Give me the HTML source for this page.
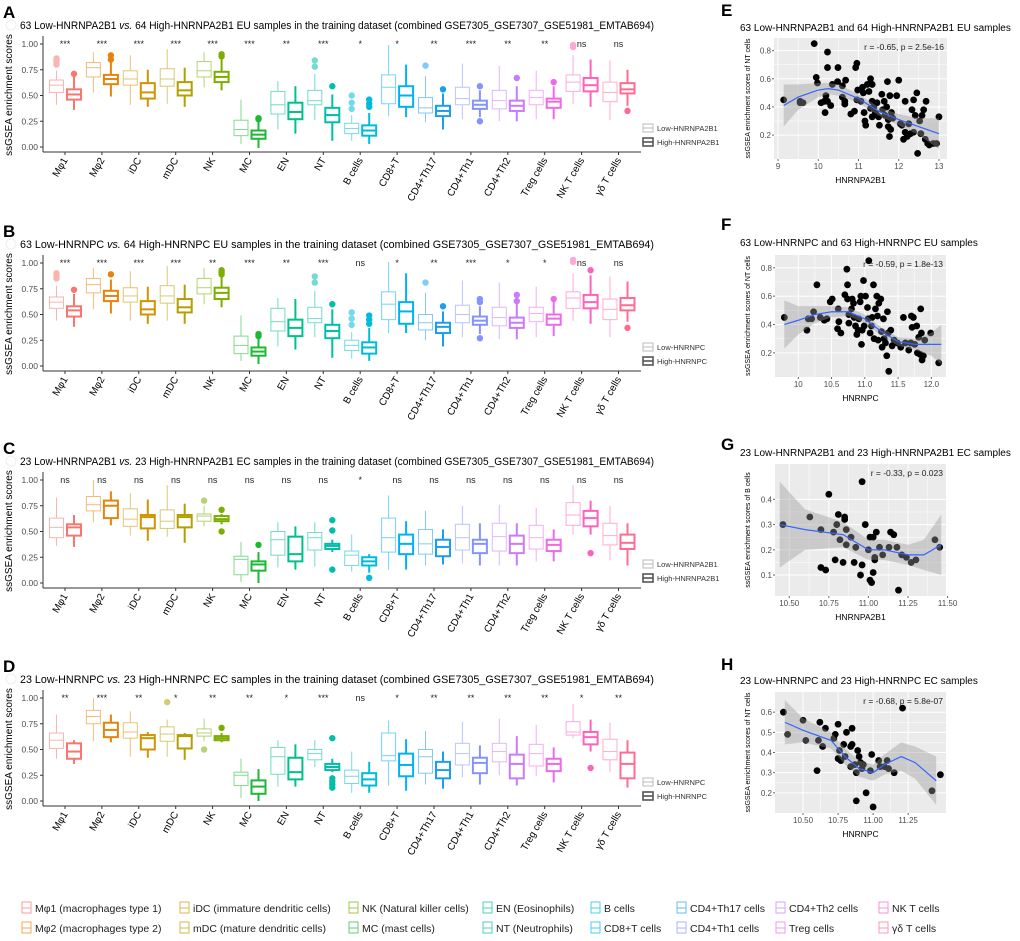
<!DOCTYPE html>
<html><head><meta charset="utf-8"><style>
body{margin:0;background:#fff}
svg{display:block;font-family:"Liberation Sans","DejaVu Sans",sans-serif}
</style></head><body>
<svg id="fig" width="1020" height="941" viewBox="0 0 1020 941"></svg>
<script>
const categories=["Mφ1","Mφ2","iDC","mDC","NK","MC","EN","NT","B cells","CD8+T","CD4+Th17","CD4+Th1","CD4+Th2","Treg cells","NK T cells","γδ T cells"];
const colors=["#F8766D","#E8830C","#D19400","#B3A000","#7CAE00","#1DB934","#00C08B","#00BFA8","#00BCD8","#00B2F3","#1C9EF0","#8494FF","#C77CFF","#EE6BE8","#FF62BC","#FF6C91"];
const yTicks=[0,0.25,0.5,0.75,1];
const yTickLabels=["0.00","0.25","0.50","0.75","1.00"];
const A_low=[[0.41,0.53,0.60,0.65,0.74],[0.53,0.68,0.77,0.82,0.92],[0.41,0.60,0.66,0.74,0.89],[0.42,0.59,0.66,0.76,0.95],[0.58,0.68,0.74,0.83,0.92],[0.03,0.11,0.17,0.26,0.46],[0.17,0.32,0.41,0.54,0.64],[0.26,0.41,0.45,0.55,0.71],[0.06,0.13,0.18,0.23,0.31],[0.30,0.42,0.58,0.70,0.99],[0.24,0.33,0.38,0.48,0.69],[0.27,0.41,0.47,0.58,0.81],[0.25,0.37,0.45,0.55,0.79],[0.27,0.41,0.48,0.55,0.74],[0.42,0.54,0.63,0.70,0.89],[0.26,0.44,0.53,0.63,0.84]];
const A_lowOut=[[0.80,0.82,0.84,0.86],[],[],[],[],[],[],[0.78,0.84],[0.37,0.43,0.50],[],[0.79],[],[],[],[0.97,0.99],[]];
const A_high=[[0.36,0.46,0.51,0.56,0.68],[0.49,0.61,0.66,0.70,0.83],[0.39,0.47,0.53,0.62,0.75],[0.39,0.50,0.55,0.63,0.77],[0.55,0.63,0.68,0.73,0.85],[-0.01,0.08,0.12,0.16,0.25],[0.13,0.27,0.34,0.43,0.59],[0.06,0.24,0.31,0.38,0.51],[0.03,0.11,0.16,0.21,0.33],[0.29,0.39,0.50,0.59,0.80],[0.17,0.30,0.35,0.40,0.52],[0.29,0.37,0.41,0.45,0.55],[0.25,0.35,0.40,0.45,0.59],[0.27,0.38,0.44,0.47,0.59],[0.39,0.54,0.60,0.67,0.85],[0.40,0.52,0.56,0.62,0.75]];
const A_highOut=[[0.71],[0.85,0.89],[],[],[0.88,0.90],[0.27,0.28],[],[0.59],[0.39,0.42,0.46],[],[0.56],[0.59,0.25],[0.67],[0.63],[],[0.35]];
const A_sig=["***","***","***","***","***","***","**","***","*","*","**","***","**","**","ns","ns"];
const B_low=[[0.44,0.56,0.62,0.67,0.78],[0.55,0.71,0.79,0.85,0.95],[0.44,0.62,0.68,0.76,0.92],[0.44,0.61,0.68,0.78,0.97],[0.60,0.70,0.76,0.85,0.95],[0.05,0.12,0.20,0.29,0.49],[0.19,0.34,0.43,0.56,0.66],[0.28,0.42,0.46,0.57,0.73],[0.07,0.15,0.20,0.25,0.33],[0.32,0.45,0.60,0.72,1.01],[0.25,0.35,0.42,0.50,0.71],[0.28,0.42,0.50,0.59,0.83],[0.26,0.39,0.47,0.57,0.81],[0.28,0.43,0.51,0.57,0.77],[0.44,0.56,0.66,0.72,0.90],[0.28,0.45,0.55,0.65,0.87]];
const B_lowOut=[[0.85,0.87,0.89,0.90],[],[],[],[],[],[],[0.81,0.87],[0.40,0.46,0.52],[],[0.81],[],[],[],[1.01,1.03],[]];
const B_high=[[0.38,0.48,0.54,0.58,0.70],[0.51,0.63,0.68,0.73,0.84],[0.41,0.50,0.55,0.63,0.77],[0.41,0.52,0.57,0.65,0.79],[0.57,0.65,0.71,0.76,0.87],[0.02,0.10,0.14,0.18,0.27],[0.16,0.29,0.37,0.45,0.65],[0.08,0.27,0.34,0.40,0.55],[0.05,0.12,0.18,0.23,0.37],[0.32,0.41,0.53,0.62,0.90],[0.19,0.32,0.38,0.42,0.53],[0.31,0.40,0.44,0.48,0.58],[0.26,0.37,0.42,0.47,0.61],[0.29,0.40,0.46,0.50,0.62],[0.41,0.56,0.62,0.69,0.88],[0.43,0.54,0.59,0.66,0.82]];
const B_highOut=[[0.74],[0.89],[],[],[0.89,0.91,0.93],[0.29,0.31],[],[0.60],[0.41,0.45,0.49],[],[0.58],[0.27,0.62,0.65],[0.63,0.69],[0.65],[0.93],[0.37]];
const B_sig=["***","***","***","***","**","***","**","***","ns","*","**","***","*","*","ns","ns"];
const C_low=[[0.36,0.44,0.54,0.63,0.83],[0.59,0.70,0.76,0.84,1.00],[0.46,0.55,0.62,0.72,0.87],[0.45,0.53,0.60,0.71,0.95],[0.55,0.60,0.65,0.67,0.75],[0.01,0.08,0.23,0.26,0.40],[0.15,0.27,0.42,0.50,0.59],[0.16,0.32,0.44,0.49,0.59],[0.11,0.17,0.27,0.31,0.47],[0.13,0.30,0.44,0.63,0.85],[0.17,0.28,0.38,0.52,0.70],[0.19,0.32,0.44,0.57,0.75],[0.17,0.31,0.45,0.58,0.76],[0.21,0.33,0.44,0.56,0.73],[0.47,0.56,0.66,0.78,0.95],[0.22,0.37,0.46,0.58,0.75]];
const C_lowOut=[[],[],[],[],[0.80],[],[],[],[],[],[],[],[],[],[],[]];
const C_high=[[0.35,0.46,0.54,0.57,0.66],[0.56,0.63,0.75,0.80,0.89],[0.41,0.53,0.64,0.66,0.81],[0.39,0.54,0.64,0.66,0.77],[0.57,0.60,0.62,0.65,0.67],[0.00,0.12,0.18,0.21,0.30],[0.13,0.21,0.28,0.45,0.55],[0.30,0.33,0.36,0.38,0.42],[0.10,0.17,0.21,0.25,0.28],[0.13,0.28,0.38,0.47,0.60],[0.18,0.26,0.35,0.42,0.52],[0.17,0.29,0.38,0.42,0.58],[0.17,0.29,0.38,0.46,0.58],[0.21,0.31,0.37,0.42,0.52],[0.47,0.55,0.63,0.70,0.80],[0.17,0.33,0.39,0.47,0.58]];
const C_highOut=[[],[],[],[],[0.71,0.50],[0.37],[],[0.61,0.51,0.13],[0.05],[],[],[],[],[],[0.29],[]];
const C_sig=["ns","ns","ns","ns","ns","ns","ns","ns","*","ns","ns","ns","ns","ns","ns","ns"];
const D_low=[[0.41,0.51,0.59,0.66,0.84],[0.58,0.75,0.82,0.88,1.00],[0.43,0.61,0.67,0.76,0.87],[0.43,0.58,0.65,0.72,0.79],[0.58,0.63,0.66,0.70,0.80],[0.03,0.15,0.25,0.28,0.41],[0.14,0.26,0.43,0.52,0.59],[0.33,0.40,0.46,0.50,0.59],[0.08,0.17,0.24,0.30,0.48],[0.15,0.39,0.44,0.66,0.78],[0.16,0.27,0.43,0.50,0.68],[0.23,0.35,0.46,0.56,0.77],[0.25,0.38,0.48,0.56,0.80],[0.24,0.34,0.46,0.55,0.74],[0.61,0.64,0.67,0.77,0.94],[0.28,0.40,0.48,0.60,0.76]];
const D_lowOut=[[],[],[],[0.96],[0.50],[],[],[],[],[],[],[],[],[],[],[]];
const D_high=[[0.36,0.41,0.48,0.56,0.59],[0.57,0.62,0.69,0.76,0.84],[0.42,0.50,0.61,0.64,0.67],[0.40,0.51,0.63,0.64,0.66],[0.57,0.59,0.61,0.63,0.66],[0.00,0.07,0.14,0.20,0.31],[0.14,0.21,0.28,0.42,0.55],[0.28,0.30,0.33,0.36,0.41],[0.08,0.15,0.21,0.27,0.38],[0.10,0.24,0.35,0.46,0.60],[0.12,0.22,0.30,0.38,0.48],[0.16,0.27,0.37,0.42,0.54],[0.15,0.22,0.36,0.45,0.63],[0.18,0.29,0.36,0.41,0.52],[0.48,0.55,0.62,0.67,0.79],[0.13,0.22,0.36,0.47,0.59]];
const D_highOut=[[],[],[],[],[0.71],[],[],[0.61,0.22,0.19,0.16,0.13],[],[],[],[],[],[],[0.32],[]];
const D_sig=["**","***","**","*","**","**","*","***","ns","*","**","**","**","**","*","**"];

const E_x=[9.14,9.55,9.55,9.62,9.9,9.95,9.98,10.07,10.15,10.17,10.23,10.23,10.19,10.23,10.31,10.48,10.49,10.35,10.6,10.68,10.6,10.66,10.66,10.81,10.9,10.96,10.93,10.98,10.96,11.06,11.1,11.12,11.14,11.16,11.18,11.22,11.26,11.3,11.34,11.34,11.3,11.34,11.38,11.42,11.46,11.46,11.5,11.52,11.58,11.6,11.64,11.66,11.7,11.72,11.74,11.74,11.77,11.78,11.8,11.82,11.85,11.95,12.0,12.04,12.08,12.12,12.16,12.16,12.21,12.25,12.29,12.33,12.37,12.37,12.41,12.45,12.47,12.52,12.55,12.58,12.62,12.66,12.68,12.72,12.76,12.86,12.94,13.0];
const E_y=[0.45,0.44,0.43,0.43,0.85,0.61,0.57,0.43,0.44,0.36,0.79,0.68,0.48,0.44,0.41,0.58,0.68,0.56,0.55,0.59,0.47,0.42,0.44,0.35,0.37,0.71,0.68,0.52,0.45,0.44,0.54,0.50,0.36,0.30,0.27,0.56,0.51,0.60,0.56,0.44,0.39,0.33,0.40,0.36,0.43,0.34,0.33,0.27,0.49,0.38,0.44,0.34,0.40,0.58,0.31,0.26,0.19,0.48,0.24,0.36,0.32,0.48,0.59,0.28,0.27,0.17,0.44,0.22,0.19,0.28,0.21,0.38,0.45,0.22,0.34,0.50,0.07,0.30,0.21,0.34,0.38,0.17,0.44,0.14,0.13,0.14,0.14,0.33];
const E_fitX=[9.14,9.5,10.0,10.25,10.5,11.0,11.5,12.0,12.5,13.0];
const E_fit=[0.41,0.47,0.52,0.53,0.52,0.46,0.37,0.31,0.26,0.21];
const E_se=[0.15,0.09,0.05,0.04,0.04,0.03,0.03,0.04,0.06,0.11];
const F_x=[9.79,10.13,10.15,10.2,10.23,10.28,10.33,10.39,10.43,10.48,10.51,10.59,10.6,10.61,10.64,10.7,10.73,10.74,10.74,10.76,10.76,10.8,10.81,10.83,10.84,10.86,10.88,10.9,10.91,10.93,10.94,10.95,10.96,10.98,10.99,11.01,11.04,11.05,11.06,11.08,11.1,11.11,11.13,11.14,11.16,11.18,11.19,11.2,11.21,11.24,11.25,11.26,11.28,11.29,11.31,11.33,11.34,11.35,11.36,11.39,11.41,11.44,11.49,11.54,11.58,11.61,11.66,11.69,11.7,11.71,11.73,11.75,11.78,11.79,11.81,11.83,11.84,11.85,11.86,11.88,11.9,11.99,12.11];
const F_y=[0.45,0.36,0.44,0.44,0.49,0.68,0.45,0.43,0.44,0.56,0.58,0.37,0.51,0.42,0.34,0.61,0.79,0.68,0.58,0.47,0.41,0.51,0.58,0.55,0.45,0.39,0.33,0.36,0.44,0.56,0.60,0.26,0.36,0.71,0.39,0.60,0.52,0.44,0.85,0.34,0.39,0.45,0.68,0.30,0.51,0.60,0.46,0.29,0.55,0.58,0.35,0.24,0.44,0.30,0.27,0.18,0.49,0.34,0.07,0.36,0.25,0.29,0.27,0.24,0.45,0.27,0.22,0.27,0.46,0.38,0.45,0.26,0.39,0.20,0.31,0.19,0.51,0.34,0.15,0.18,0.29,0.34,0.13];
const F_fitX=[9.79,10.0,10.25,10.5,10.75,11.0,11.25,11.5,11.75,12.0,12.15];
const F_fit=[0.40,0.43,0.47,0.49,0.49,0.44,0.35,0.28,0.26,0.26,0.26];
const F_se=[0.17,0.10,0.06,0.04,0.03,0.03,0.03,0.03,0.04,0.08,0.14];
const G_x=[10.46,10.63,10.7,10.7,10.73,10.75,10.78,10.79,10.8,10.81,10.82,10.85,10.85,10.84,10.86,10.86,10.89,10.91,10.92,10.96,10.95,10.96,10.98,11.0,11.01,11.01,11.02,11.03,11.03,11.04,11.04,11.05,11.07,11.09,11.13,11.14,11.16,11.18,11.19,11.21,11.24,11.27,11.3,11.42,11.45];
const G_y=[0.30,0.33,0.28,0.13,0.12,0.42,0.27,0.16,0.30,0.34,0.24,0.33,0.32,0.15,0.28,0.22,0.25,0.15,0.21,0.47,0.10,0.14,0.30,0.20,0.25,0.08,0.07,0.25,0.11,0.17,0.16,0.27,0.21,0.18,0.21,0.27,0.26,0.21,0.04,0.18,0.17,0.15,0.16,0.24,0.21];
const G_fitX=[10.44,10.6,10.84,11.0,11.1,11.25,11.35,11.46];
const G_fit=[0.30,0.28,0.26,0.20,0.20,0.18,0.18,0.22];
const G_se=[0.17,0.08,0.05,0.04,0.04,0.04,0.06,0.12];
const H_x=[10.36,10.39,10.5,10.52,10.6,10.61,10.62,10.64,10.66,10.72,10.73,10.75,10.75,10.76,10.77,10.79,10.8,10.81,10.84,10.84,10.85,10.85,10.87,10.88,10.88,10.89,10.9,10.91,10.92,10.93,10.95,10.98,10.99,11.0,11.04,11.05,11.08,11.1,11.11,11.15,11.21,11.42,11.48];
const H_y=[0.60,0.49,0.56,0.46,0.31,0.46,0.55,0.43,0.52,0.47,0.49,0.54,0.37,0.41,0.36,0.44,0.38,0.50,0.43,0.33,0.52,0.44,0.34,0.16,0.30,0.41,0.38,0.35,0.32,0.34,0.20,0.31,0.39,0.13,0.36,0.33,0.33,0.36,0.32,0.30,0.62,0.21,0.29];
const H_fitX=[10.37,10.5,10.7,10.8,10.9,11.0,11.08,11.2,11.3,11.45];
const H_fit=[0.55,0.51,0.46,0.38,0.32,0.30,0.34,0.38,0.35,0.26];
const H_se=[0.11,0.06,0.04,0.04,0.04,0.04,0.05,0.07,0.08,0.12];

const legendRow1=[0,2,4,6,8,10,12,14];
const legendRow2=[1,3,5,7,9,11,13,15];
const legendText=["Mφ1 (macrophages type 1)","Mφ2 (macrophages type 2)","iDC (immature dendritic cells)","mDC (mature dendritic cells)","NK (Natural killer cells)","MC (mast cells)","EN (Eosinophils)","NT (Neutrophils)","B cells","CD8+T cells","CD4+Th17 cells","CD4+Th1 cells","CD4+Th2 cells","Treg cells","NK T cells","γδ T cells"];

const NS="http://www.w3.org/2000/svg";
const svg=document.getElementById('fig');
function el(tag,attrs,parent,text){const e=document.createElementNS(NS,tag);for(const k in attrs)e.setAttribute(k,attrs[k]);if(text!==undefined)e.textContent=text;(parent||svg).appendChild(e);return e;}
function lighten(hex,f){const n=parseInt(hex.slice(1),16);let r=n>>16,g=(n>>8)&255,b=n&255;r=Math.round(r+(255-r)*f);g=Math.round(g+(255-g)*f);b=Math.round(b+(255-b)*f);return `rgb(${r},${g},${b})`;}

function boxPanel(letter,off,title,low,lowOut,high,highOut,sig,legLow,legHigh){
  const g=el('g',{});
  
  
  const y=v=>147+off-v*103;
  const cx=i=>65+i*36.9;
  const L=el('text',{x:3,y:18+off,'font-size':17,'font-weight':'bold'},g,letter);
  
  
  const c=el('circle',{cx:11,cy:25+off,r:5,fill:'none',stroke:'#eee'},g);
  const T=el('text',{x:20,y:29+off,'font-size':10.6,textLength:634,lengthAdjust:'spacingAndGlyphs'},g);
  
  
  const parts=title.split('vs.');
  el('tspan',{},T,parts[0]);el('tspan',{'font-style':'italic'},T,'vs.');el('tspan',{},T,parts[1]);
  el('line',{x1:43,y1:36+off,x2:43,y2:152+off,stroke:'#333','stroke-width':1},g);
  el('line',{x1:43,y1:152+off,x2:641,y2:152+off,stroke:'#333','stroke-width':1},g);
  yTicks.forEach((v,k)=>{
    el('line',{x1:40,y1:y(v),x2:43,y2:y(v),stroke:'#333'},g);
    const t=el('text',{x:38,y:y(v)+3,'font-size':8.5,fill:'#4d4d4d','text-anchor':'end'},g,yTickLabels[k]);
    
    
  });
  const yt=el('text',{transform:`translate(12,${95+off}) rotate(-90)`,'font-size':10,'text-anchor':'middle'},g,'ssGSEA enrichment scores');
  
  
  categories.forEach((cat,i)=>{
    const x=cx(i);
    el('line',{x1:x,y1:152+off,x2:x,y2:155+off,stroke:'#333'},g);
    const xl=el('text',{transform:`translate(${x+3},${160+off}) rotate(-60)`,'font-size':10,'text-anchor':'end'},g,cat);
    
    
    const s=el('text',{x:x,y:y(1)+3,'font-size':9,'text-anchor':'middle',fill:'#222'},g,sig[i]);
    
    
    [[low,lowOut,x-8.5,lighten(colors[i],0.45),1],[high,highOut,x+9,colors[i],2]].forEach(([d,o,bx,col,sw],gi)=>{
      const b=d[i];
      const bg=el('g',{},g);
      
      
      el('line',{x1:bx,y1:y(b[0]),x2:bx,y2:y(b[1]),stroke:col,'stroke-width':sw},bg);
      el('line',{x1:bx,y1:y(b[3]),x2:bx,y2:y(b[4]),stroke:col,'stroke-width':sw},bg);
      el('rect',{x:bx-7,y:y(b[3]),width:14,height:y(b[1])-y(b[3]),fill:'#fff',stroke:col,'stroke-width':sw},bg);
      el('line',{x1:bx-7,y1:y(b[2]),x2:bx+7,y2:y(b[2]),stroke:col,'stroke-width':sw},bg);
      o[i].forEach(v=>{el('circle',{cx:bx,cy:y(v),r:3.2,fill:col},bg);});
    });
  });
  [[legLow,'#bbb',1,128],[legHigh,'#555',1.6,142]].forEach(([txt,col,sw,yy])=>{
    const lg=el('g',{},g);
    
    
    el('rect',{x:643,y:yy-4+off,width:10,height:8,fill:'#fff',stroke:col,'stroke-width':sw},lg);
    el('line',{x1:643,y1:yy+off,x2:653,y2:yy+off,stroke:col,'stroke-width':sw},lg);
    el('text',{x:657,y:yy+3+off,'font-size':7.5,fill:'#333'},lg,txt);
  });
}
boxPanel('A',0,'63 Low-HNRNPA2B1 vs. 64 High-HNRNPA2B1 EU samples in the training dataset (combined GSE7305_GSE7307_GSE51981_EMTAB694)',A_low,A_lowOut,A_high,A_highOut,A_sig,'Low-HNRNPA2B1','High-HNRNPA2B1');
boxPanel('B',219,'63 Low-HNRNPC vs. 64 High-HNRNPC EU samples in the training dataset (combined GSE7305_GSE7307_GSE51981_EMTAB694)',B_low,B_lowOut,B_high,B_highOut,B_sig,'Low-HNRNPC','High-HNRNPC');
boxPanel('C',436,'23 Low-HNRNPA2B1 vs. 23 High-HNRNPA2B1 EC samples in the training dataset (combined GSE7305_GSE7307_GSE51981_EMTAB694)',C_low,C_lowOut,C_high,C_highOut,C_sig,'Low-HNRNPA2B1','High-HNRNPA2B1');
boxPanel('D',654,'23 Low-HNRNPC vs. 23 High-HNRNPC EC samples in the training dataset (combined GSE7305_GSE7307_GSE51981_EMTAB694)',D_low,D_lowOut,D_high,D_highOut,D_sig,'Low-HNRNPC','High-HNRNPC');

function scatter(cfg){
  const g=el('g',{});
  
  
  const [px0,px1,py0,py1]=cfg.box;
  const sx=v=>px0+(v-cfg.xr[0])/(cfg.xr[1]-cfg.xr[0])*(px1-px0);
  const sy=v=>py1-(v-cfg.yr[0])/(cfg.yr[1]-cfg.yr[0])*(py1-py0);
  el('text',{x:721,y:cfg.ly,'font-size':17,'font-weight':'bold'},g,cfg.letter);
  const t=el('text',{x:740,y:cfg.ty,'font-size':10},g,cfg.title);
  
  
  el('rect',{x:px0,y:py0,width:px1-px0,height:py1-py0,fill:'#EBEBEB'},g);
  const minor=(a,b)=>(a+b)/2;
  for(let k=0;k<cfg.xt.length-1;k++){const m=sx(minor(cfg.xt[k],cfg.xt[k+1]));el('line',{x1:m,y1:py0,x2:m,y2:py1,stroke:'#fff','stroke-width':0.5},g);}
  for(let k=0;k<cfg.yt.length-1;k++){const m=sy(minor(cfg.yt[k],cfg.yt[k+1]));el('line',{x1:px0,y1:m,x2:px1,y2:m,stroke:'#fff','stroke-width':0.5},g);}
  cfg.xt.forEach((v,k)=>{const x=sx(v);el('line',{x1:x,y1:py0,x2:x,y2:py1,stroke:'#fff','stroke-width':1},g);
    el('line',{x1:x,y1:py1,x2:x,y2:py1+2,stroke:'#666'},g);
    const l=el('text',{x:x,y:py1+10,'font-size':8,fill:'#4d4d4d','text-anchor':'middle'},g,cfg.xl[k]);
    
    });
  cfg.yt.forEach((v,k)=>{const y=sy(v);el('line',{x1:px0,y1:y,x2:px1,y2:y,stroke:'#fff','stroke-width':1},g);
    el('line',{x1:px0-2,y1:y,x2:px0,y2:y,stroke:'#666'},g);
    const l=el('text',{x:px0-3,y:y+3,'font-size':8,fill:'#4d4d4d','text-anchor':'end'},g,cfg.yl[k]);
    
    });
  cfg.px.forEach((v,k)=>{const p=el('circle',{cx:sx(v),cy:sy(cfg.py[k]),r:3.4,fill:'#000'},g);
    
    });
  let up='',dn='';
  cfg.fx.forEach((v,k)=>{up+=(k?'L':'M')+sx(v)+','+sy(cfg.fy[k]+cfg.se[k]);});
  for(let k=cfg.fx.length-1;k>=0;k--){dn+='L'+sx(cfg.fx[k])+','+sy(cfg.fy[k]-cfg.se[k]);}
  const rb=el('path',{d:up+dn+'Z',fill:'#999','fill-opacity':0.4},g);
  
  
  let ln='';cfg.fx.forEach((v,k)=>{ln+=(k?'L':'M')+sx(v)+','+sy(cfg.fy[k]);});
  const lp=el('path',{d:ln,fill:'none',stroke:'#3366FF','stroke-width':1.2},g);
  
  
  const a=el('text',{x:px1-3,y:py0+12,'font-size':8.5,'text-anchor':'end',fill:'#222'},g,cfg.ann);
  
  
  const xt=el('text',{x:(px0+px1)/2,y:py1+24,'font-size':8.5,'text-anchor':'middle'},g,cfg.xtitle);
  
  
  const yt=el('text',{transform:`translate(750,${(py0+py1)/2}) rotate(-90)`,'font-size':7,'text-anchor':'middle'},g,cfg.ytitle);
  
  
}
scatter({letter:'E',ly:16,ty:31,title:'63 Low-HNRNPA2B1 and 64 High-HNRNPA2B1 EU samples',box:[774,947,38,159],xr:[8.9,13.2],yr:[0.03,0.89],xt:[9,10,11,12,13],xl:['9','10','11','12','13'],yt:[0.2,0.4,0.6,0.8],yl:['0.2','0.4','0.6','0.8'],px:E_x,py:E_y,fx:E_fitX,fy:E_fit,se:E_se,ann:'r = -0.65,   p = 2.5e-16',xtitle:'HNRNPA2B1',ytitle:'ssGSEA enrichment scores of NT cells'});
scatter({letter:'F',ly:230,ty:246,title:'63 Low-HNRNPC and 63 High-HNRNPC EU samples',box:[775,946,255,377],xr:[9.65,12.22],yr:[0.03,0.89],xt:[10,10.5,11,11.5,12],xl:['10','10.5','11.0','11.5','12.0'],yt:[0.2,0.4,0.6,0.8],yl:['0.2','0.4','0.6','0.8'],px:F_x,py:F_y,fx:F_fitX,fy:F_fit,se:F_se,ann:'r = -0.59,   p = 1.8e-13',xtitle:'HNRNPC',ytitle:'ssGSEA enrichment scores of NT cells'});
scatter({letter:'G',ly:450,ty:456,title:'23 Low-HNRNPA2B1 and 23 High-HNRNPA2B1 EC samples',box:[775,946,464,596],xr:[10.41,11.49],yr:[0.017,0.54],xt:[10.5,10.75,11,11.25,11.5],xl:['10.50','10.75','11.00','11.25','11.50'],yt:[0.1,0.2,0.3,0.4],yl:['0.1','0.2','0.3','0.4'],px:G_x,py:G_y,fx:G_fitX,fy:G_fit,se:G_se,ann:'r = -0.33,   p = 0.023',xtitle:'HNRNPA2B1',ytitle:'ssGSEA enrichment scores of B cells'});
scatter({letter:'H',ly:670,ty:684,title:'23 Low-HNRNPC and 23 High-HNRNPC EC samples',box:[775,946,692,813],xr:[10.30,11.52],yr:[0.10,0.70],xt:[10.5,10.75,11,11.25],xl:['10.50','10.75','11.00','11.25'],yt:[0.2,0.3,0.4,0.5,0.6],yl:['0.2','0.3','0.4','0.5','0.6'],px:H_x,py:H_y,fx:H_fitX,fy:H_fit,se:H_se,ann:'r = -0.68,   p = 5.8e-07',xtitle:'HNRNPC',ytitle:'ssGSEA enrichment scores of NT cells'});

const legX=[22,180,349,483,591,677,776,879];
function legendRow(idx,yy){
  idx.forEach((ci,k)=>{
    const lg=el('g',{});
    
    
    const col=lighten(colors[ci],0.3);
    el('rect',{x:legX[k],y:yy-6,width:9,height:11,fill:'#fff',stroke:col,'stroke-width':1},lg);
    el('line',{x1:legX[k],y1:yy,x2:legX[k]+9,y2:yy,stroke:col},lg);
    el('text',{x:legX[k]+13,y:yy+4,'font-size':10.5,fill:'#222'},lg,legendText[ci]);
  });
}
legendRow(legendRow1,908);
legendRow(legendRow2,928);
</script>
</body></html>
